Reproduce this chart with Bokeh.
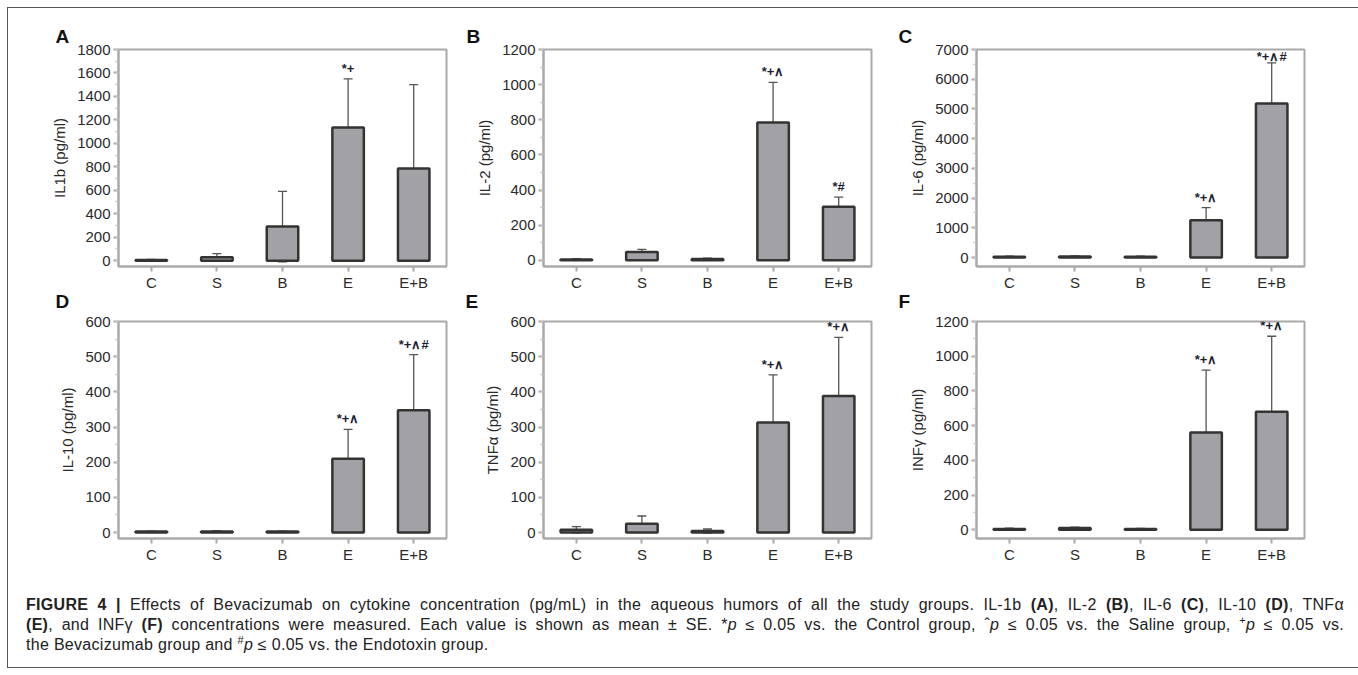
from bokeh.plotting import figure
from bokeh.models import (FactorRange, Range1d, Whisker, ColumnDataSource,
                          Div, TeeHead, FixedTicker)
from bokeh.layouts import row, column
from bokeh.embed import file_html
from bokeh.resources import INLINE
from bokeh.core.properties import value

# ---------------- data ----------------
groups = ["C", "S", "B", "E", "E+B"]

il1b_mean = [5, 28, 290, 1135, 785]
il1b_se = [5, 32, 300, 415, 715]
il1b_sig = ["", "", "", "*+", ""]

il2_mean = [5, 47, 8, 785, 305]
il2_se = [4, 15, 5, 228, 55]
il2_sig = ["", "", "", "*+∧", "*#"]

il6_mean = [30, 40, 30, 1260, 5180]
il6_se = [20, 15, 20, 420, 1370]
il6_sig = ["", "", "", "*+∧", "*+∧#"]
il6_sig_y = [None, None, None, None, 6400]   # marker drawn over the cap in the reference

il10_mean = [3, 3, 3, 210, 348]
il10_se = [1, 2, 1, 83, 158]
il10_sig = ["", "", "", "*+∧", "*+∧#"]

tnfa_mean = [8, 25, 4, 313, 388]
tnfa_se = [9, 22, 6, 135, 167]
tnfa_sig = ["", "", "", "*+∧", "*+∧"]

infg_mean = [5, 10, 5, 560, 680]
infg_se = [4, 5, 3, 360, 435]
infg_sig = ["", "", "", "*+∧", "*+∧"]

panel_letters = ["A", "B", "C", "D", "E", "F"]
y_labels = ["IL1b (pg/ml)", "IL-2 (pg/ml)", "IL-6 (pg/ml)",
            "IL-10 (pg/ml)", "TNFα (pg/ml)", "INFγ (pg/ml)"]

FONT = "Liberation Sans"
AXIS_GRAY = "#a9a9a9"
TXT = "#2a2a2a"


def panel(letter, ylabel, means, ses, sigs, yr, major, minor,
          w, h, bl, br, bt, bb, loff, lstand, sig_y=None, clear_border=False):
    p = figure(x_range=FactorRange(factors=groups, range_padding=0),
               y_range=Range1d(*yr), width=w, height=h,
               output_backend="svg", toolbar_location=None,
               min_border_left=bl, min_border_right=br,
               min_border_top=bt, min_border_bottom=bb)
    p.background_fill_color = "white"
    p.border_fill_color = "white"
    if clear_border:
        p.border_fill_alpha = 0
    p.outline_line_color = AXIS_GRAY
    p.outline_line_width = 2
    p.grid.visible = False

    upper = [m + s for m, s in zip(means, ses)]
    lower = [m - s for m, s in zip(means, ses)]
    ty = list(upper)
    if sig_y is not None:
        ty = [u if v is None else v for u, v in zip(upper, sig_y)]
    src = ColumnDataSource(dict(x=groups, top=means, upper=upper,
                                lower=lower, sig=sigs, ty=ty))

    p.vbar(x="x", top="top", bottom=0, width=0.48, source=src,
           fill_color="#a2a2a6", line_color="#333333", line_width=2.5)

    wk = Whisker(source=src, base="x", upper="upper", lower="lower",
                 line_color="#555555", line_width=1.3,
                 upper_head=TeeHead(size=9, line_color="#555555", line_width=1.3),
                 lower_head=TeeHead(size=9, line_color="#555555", line_width=1.3))
    p.add_layout(wk)

    p.text(x="x", y="ty", text="sig", source=src,
           text_font=value(FONT), text_font_size="13px", text_font_style="bold",
           text_color="#1c1f33", text_align="center", text_baseline="bottom",
           y_offset=-3)

    p.yaxis.ticker = FixedTicker(ticks=major, minor_ticks=minor)
    p.yaxis.axis_label = ylabel
    p.yaxis.axis_label_text_font = FONT
    p.yaxis.axis_label_text_font_style = "normal"
    p.yaxis.axis_label_text_font_size = "15px"
    p.yaxis.axis_label_text_color = TXT
    p.yaxis.axis_label_standoff = 6

    for ax in (p.xaxis, p.yaxis):
        ax.axis_line_color = AXIS_GRAY
        ax.axis_line_width = 2
        ax.major_tick_line_color = AXIS_GRAY
        ax.major_tick_line_width = 2
        ax.major_tick_in = 0
        ax.major_tick_out = 5
        ax.minor_tick_line_color = "#c4c4c4"
        ax.minor_tick_line_width = 1.5
        ax.minor_tick_in = 0
        ax.minor_tick_out = 3
        ax.major_label_text_font = FONT
        ax.major_label_text_font_size = "15px"
        ax.major_label_text_color = TXT
        ax.major_label_standoff = 3
    p.xaxis.major_label_standoff = 2

    p.title.text = letter
    p.title.align = "left"
    p.title.offset = loff
    p.title.standoff = lstand
    p.title.text_font = FONT
    p.title.text_font_size = "19px"
    p.title.text_font_style = "bold"
    p.title.text_color = "#111111"
    return p


def ticks(step, top):
    return list(range(0, top + 1, step))


# geometry: frame width 328, frame height 217
W1, W2, W3 = 447, 435, 463
BL1, BL2, BL3 = 110, 88, 86
BR1, BR2, BR3 = 9, 19, 49
TOP1, TOP2, BOT = 41, 43, 28
FRAME_H = 217
H1 = TOP1 + FRAME_H + BOT
H2 = TOP2 + FRAME_H + BOT
OVERLAP = 16

pA = panel(panel_letters[0], y_labels[0], il1b_mean, il1b_se, il1b_sig,
           (-50, 1800), ticks(200, 1800), ticks(100, 1800),
           W1, H1, BL1, BR1, TOP1, BOT, -63, 6)
pB = panel(panel_letters[1], y_labels[1], il2_mean, il2_se, il2_sig,
           (-35, 1200), ticks(200, 1200), ticks(100, 1200),
           W2, H1, BL2, BR2, TOP1, BOT, -77, 6)
pC = panel(panel_letters[2], y_labels[2], il6_mean, il6_se, il6_sig,
           (-300, 7000), ticks(1000, 7000), ticks(500, 7000),
           W3, H1, BL3, BR3, TOP1, BOT, -78, 6, il6_sig_y)
pD = panel(panel_letters[3], y_labels[3], il10_mean, il10_se, il10_sig,
           (-17, 600), ticks(100, 600), ticks(50, 600),
           W1, H2, BL1, BR1, TOP2, BOT, -63, 19, clear_border=True)
pE = panel(panel_letters[4], y_labels[4], tnfa_mean, tnfa_se, tnfa_sig,
           (-17, 600), ticks(100, 600), ticks(50, 600),
           W2, H2, BL2, BR2, TOP2, BOT, -78, 19, clear_border=True)
pF = panel(panel_letters[5], y_labels[5], infg_mean, infg_se, infg_sig,
           (-50, 1200), ticks(200, 1200), ticks(100, 1200),
           W3, H2, BL3, BR3, TOP2, BOT, -78, 19, clear_border=True)

SUP = '<sup style="line-height:0; font-size:11px;">'
line_style = ("display:block; width:1318px; height:20px; text-align:justify; "
              "text-align-last:justify; white-space:nowrap; letter-spacing:0.3px;")
caption_html = (
    '<div style="padding:24px 0 0 13px; font-family:\'Liberation Sans\', Arial, sans-serif; '
    'font-size:16px; line-height:20px; color:#222;">'
    f'<div style="{line_style}"><b>FIGURE 4 |</b> Effects of Bevacizumab on cytokine '
    'concentration (pg/mL) in the aqueous humors of all the study groups. IL-1b <b>(A)</b>, '
    'IL-2 <b>(B)</b>, IL-6 <b>(C)</b>, IL-10 <b>(D)</b>, TNFα</div>'
    f'<div style="{line_style}"><b>(E)</b>, and INFγ <b>(F)</b> concentrations were measured. '
    'Each value is shown as mean ± SE. *<i>p</i> ≤ 0.05 vs. the Control group, '
    f'ˆ<i>p</i> ≤ 0.05 vs. the Saline group, {SUP}+</sup><i>p</i> ≤ 0.05 vs.</div>'
    '<div style="height:20px; letter-spacing:0.3px; white-space:nowrap;">the Bevacizumab group and '
    f'{SUP}#</sup><i>p</i> ≤ 0.05 vs. the Endotoxin group.</div>'
    '</div>')
caption = Div(text=caption_html, width=W1 + W2 + W3, height=91)

layout = column(row(pA, pB, pC),
                row(pD, pE, pF, styles={"margin-top": f"-{OVERLAP}px"}),
                caption,
                styles={"border": "1px solid #555555", "background": "white",
                        "margin": "7px 0 0 7px"})

open("out.html", "w").write(file_html(layout, INLINE))
